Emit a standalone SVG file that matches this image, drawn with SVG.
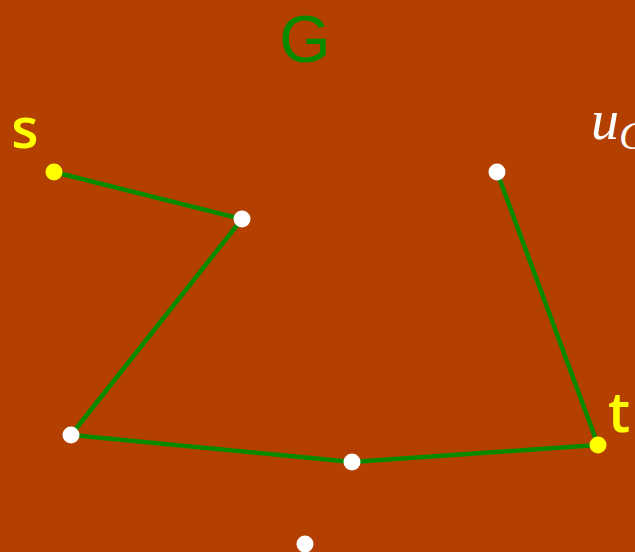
<svg xmlns="http://www.w3.org/2000/svg" width="635" height="552" viewBox="0 0 635 552">
<style>
.edge{stroke:#088a00;stroke-width:4.5;fill:none;stroke-linecap:round}
.w{fill:#ffffff}
.y{fill:#ffff00}
.lbl{font-family:"Open Sans","DejaVu Sans",sans-serif;font-weight:600;fill:#ffff00}
</style>
<rect x="0" y="0" width="635" height="552" fill="#b34000"/>
<text x="305" y="62" text-anchor="middle" font-family="Liberation Sans, sans-serif" font-size="66" fill="#088a00">G</text>
<text x="591" y="139" font-family="Liberation Serif, serif" font-style="italic" font-size="56" fill="#ffffff">u<tspan font-size="40" dy="10">C</tspan></text>
<g id="edges">
<polyline class="edge" points="54,172 242,219 71,435 352,462 598,445 497,172"/>
</g>
<g id="s"><circle class="y" cx="54" cy="172" r="8.5"/><text class="lbl" x="25" y="148" text-anchor="middle" font-size="56">s</text></g>
<g id="n1"><circle class="w" cx="242" cy="219" r="8.5"/></g>
<g id="n2"><circle class="w" cx="71" cy="435" r="8.5"/></g>
<g id="n3"><circle class="w" cx="352" cy="462" r="8.5"/></g>
<g id="t"><circle class="y" cx="598" cy="445" r="8.5"/><text class="lbl" x="619" y="432" text-anchor="middle" font-size="56">t</text></g>
<g id="n4"><circle class="w" cx="497" cy="172" r="8.5"/></g>
<g id="n5"><circle class="w" cx="305" cy="544" r="8.5"/></g>
</svg>
